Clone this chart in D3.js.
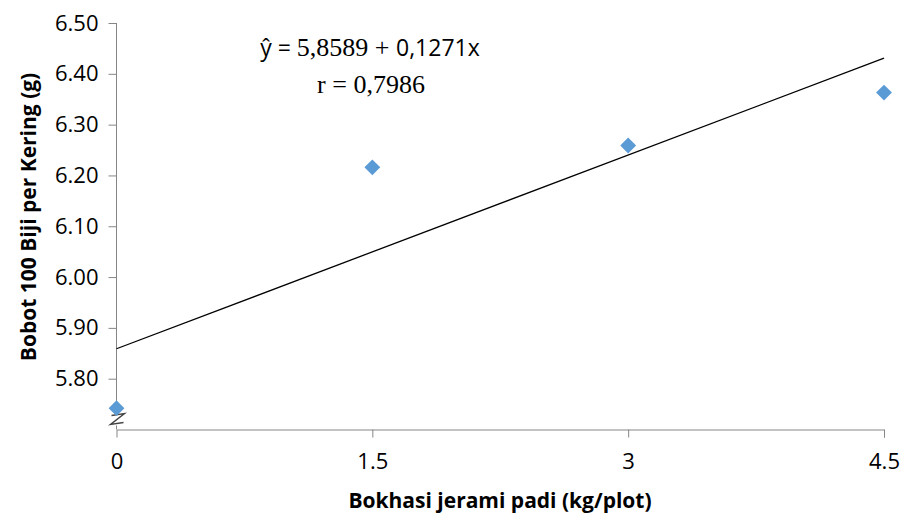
<!DOCTYPE html>
<html>
<head>
<meta charset="utf-8">
<script src="https://cdn.jsdelivr.net/npm/d3@7/dist/d3.min.js"></script>
<style>
  body { margin: 0; background: #fff; }
  svg { display: block; }
</style>
</head>
<body>
<svg id="chart" width="904" height="520"></svg>
<script>
// dose of bokhasi (kg/plot) and mean 100-seed dry weight (g)
const doses = [0, 1.5, 3, 4.5];
const weights = [5.742, 6.216, 6.259, 6.363];
const xTicks = [0, 1.5, 3, 4.5];
const yTicks = [5.8, 5.9, 6.0, 6.1, 6.2, 6.3, 6.4, 6.5];
// regression reported on the chart
const intercept = [5.8589];
const slope = [0.1271];
const eqLines = ['ŷ = 5,8589 + 0,1271x', 'r = 0,7986'];

const FONT = "'Open Sans', 'Noto Sans', sans-serif";
const SERIF = "'Liberation Serif', 'DejaVu Serif', serif";
const AXIS = '#868686';

const svg = d3.select('#chart');
const x = d3.scaleLinear().domain([0, 4.5]).range([116.5, 884]);
const y = d3.scaleLinear().domain([5.7, 6.5]).range([429.5, 23]);

// y axis
const gy = svg.append('g').attr('transform', `translate(${x(0)},0)`)
  .call(d3.axisLeft(y).tickValues(yTicks).tickFormat(d3.format('.2f')).tickSizeOuter(0).tickSize(8).tickPadding(10));
gy.select('.domain').attr('stroke', AXIS).attr('d', `M0,${y(5.7)}V${y(6.5)}`);
gy.selectAll('.tick line').attr('stroke', AXIS);
gy.selectAll('.tick text').attr('font-family', FONT).attr('font-size', 22).attr('fill', '#000');

// x axis
const gx = svg.append('g').attr('transform', `translate(0,${y(5.7)})`)
  .call(d3.axisBottom(x).tickValues(xTicks).tickFormat((d) => String(d)).tickSizeOuter(0).tickSize(8).tickPadding(16));
gx.select('.domain').attr('stroke', AXIS);
gx.selectAll('.tick line').attr('stroke', AXIS);
gx.selectAll('.tick')
  .filter((d) => d === 0).select('line').remove();
gx.selectAll('.tick text').attr('font-family', FONT).attr('font-size', 22).attr('fill', '#000');

// regression line
svg.append('line')
  .attr('x1', x(0)).attr('y1', y(intercept[0]))
  .attr('x2', x(4.5)).attr('y2', y(intercept[0] + slope[0] * 4.5))
  .attr('stroke', '#000').attr('stroke-width', 1.3);

// axis break mark
const bx = x(0), by = y(5.7) - 10;
svg.append('rect').attr('x', bx - 10).attr('y', by - 6).attr('width', 20).attr('height', 12).attr('fill', '#fff');
svg.append('path')
  .attr('d', `M${bx - 5},${by - 4} L${bx + 8},${by - 6} L${bx - 6},${by + 5} L${bx + 7},${by + 3}`)
  .attr('fill', 'none').attr('stroke', '#444').attr('stroke-width', 1.4);

// points
svg.append('g').selectAll('path').data(doses).join('path')
  .attr('transform', (d, i) => `translate(${x(d)},${y(weights[i])}) rotate(45)`)
  .attr('d', 'M-5.6,-5.6H5.6V5.6H-5.6Z')
  .attr('fill', '#5B9BD5');

// equation
const eq = svg.append('text').attr('x', 370).attr('y', 56).attr('text-anchor', 'middle')
  .attr('font-size', 23).attr('fill', '#000');
eq.append('tspan').attr('font-family', FONT).text('ŷ = ');
eq.append('tspan').attr('font-family', SERIF).attr('font-size', 26).text('5,8589 + ');
eq.append('tspan').attr('font-family', FONT).text('0,1271x');
svg.append('text').attr('x', 371).attr('y', 93).attr('text-anchor', 'middle')
  .attr('font-family', SERIF).attr('font-size', 26).attr('fill', '#000').text(eqLines[1]);

// axis titles
svg.append('text').attr('transform', `translate(36,217) rotate(-90)`).attr('text-anchor', 'middle')
  .attr('font-family', FONT).attr('font-weight', 'bold').attr('font-size', 21).text('Bobot 100 Biji per Kering (g)');
svg.append('text').attr('x', 500).attr('y', 508).attr('text-anchor', 'middle')
  .attr('font-family', FONT).attr('font-weight', 'bold').attr('font-size', 21).text('Bokhasi jerami padi (kg/plot)');
</script>
</body>
</html>
